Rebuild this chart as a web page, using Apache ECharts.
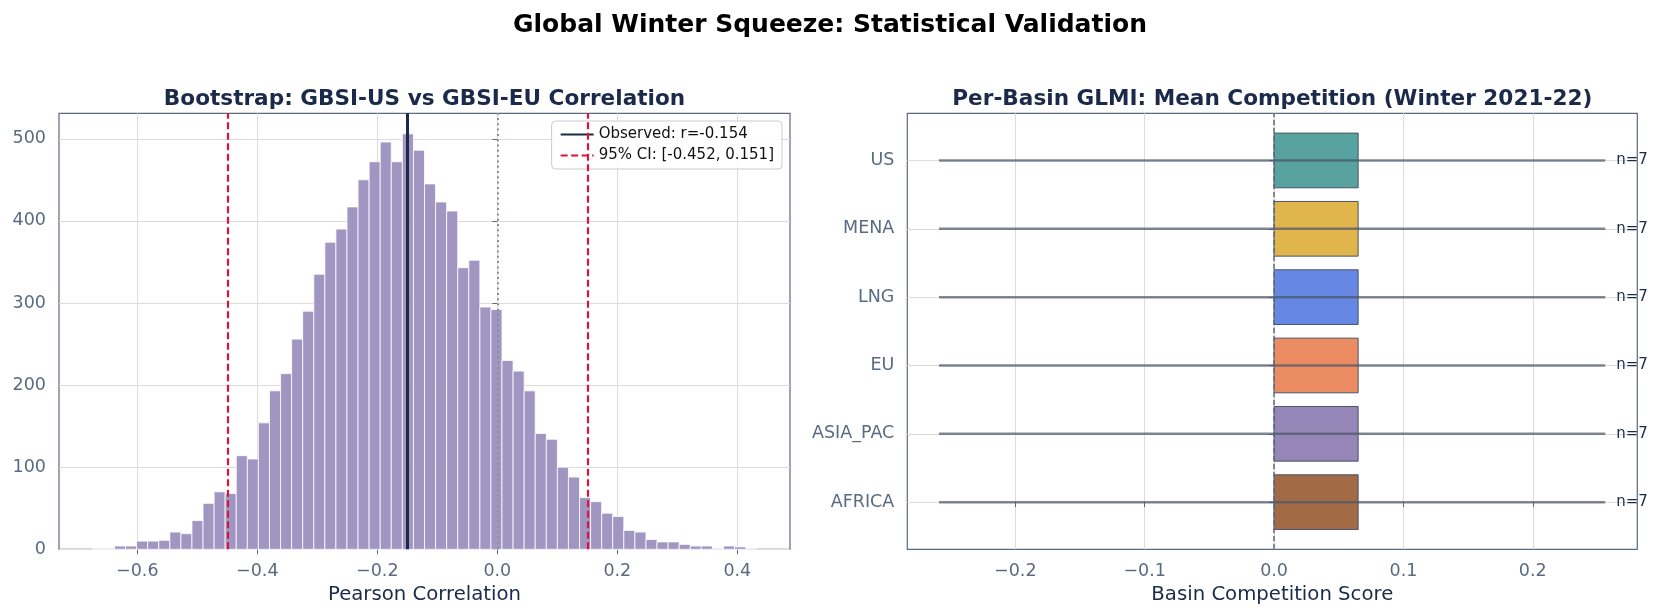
<!DOCTYPE html>
<html><head><meta charset="utf-8">
<script src="https://cdn.jsdelivr.net/npm/echarts@6/dist/echarts.min.js"></script>
<style>html,body{margin:0;padding:0;background:#fff}#c{width:1660px;height:616px}</style>
</head><body><div id="c"></div>
<script>
// ---- Left panel: bootstrap histogram ----
const histMin = -0.675;
const histMax = 0.4323;
const histCounts = [1,1,4,4,10,10,11,21,19,35,56,70,68,114,110,154,193,214,256,290,335,374,390,417,450,472,496,472,506,486,445,423,412,343,352,295,292,230,217,193,141,134,100,88,63,58,44,40,23,21,12,9,9,6,4,4,1,4,3,1];
const observedR = -0.154;
const ciBounds = [-0.452, 0.151];
const leftXTicks = [-0.6, -0.4, -0.2, 0.0, 0.2, 0.4];
const leftYTicks = [0, 100, 200, 300, 400, 500];
const leftXRange = [-0.7305, 0.4878];
const leftYRange = [0, 531];

// ---- Right panel: per-basin GLMI ----
const basins = ['AFRICA', 'ASIA_PAC', 'EU', 'LNG', 'MENA', 'US'];
const basinMeans = [0.065, 0.065, 0.065, 0.065, 0.065, 0.065];
const basinLow = [-0.259, -0.259, -0.259, -0.259, -0.259, -0.259];
const basinHigh = [0.256, 0.256, 0.256, 0.256, 0.256, 0.256];
const basinN = [7, 7, 7, 7, 7, 7];
const basinColors = ['#a36b45', '#9686b8', '#ec8c62', '#6688e4', '#e0b54c', '#58a29f'];
const rightXTicks = [-0.2, -0.1, 0.0, 0.1, 0.2];
const rightYTicks = [0, 1, 2, 3, 4, 5];
const rightXRange = [-0.2835, 0.2808];
const rightYRange = [-0.69, 5.69];

const FONT = 'DejaVu Sans';
const SLATE = '#5a6a80';
const NAVY = '#1b2a4a';
const fmtNum = v => (Math.abs(v) < 1e-9 ? '0.0' : v.toFixed(1).replace('-', '\u2212'));

const binW = (histMax - histMin) / histCounts.length;
const histData = histCounts.map((c, i) => [histMin + i * binW, histMin + (i + 1) * binW, c]);

const chart = echarts.init(document.getElementById('c'), null, {renderer: 'canvas'});

const axisCommon = {
  axisLine: {show: false},
  axisTick: {show: true, length: 5, lineStyle: {color: SLATE, width: 1}},
  axisLabel: {color: SLATE, fontSize: 17.5, fontFamily: FONT},
  splitLine: {show: true, lineStyle: {color: '#dcdcdc', width: 1}},
  nameTextStyle: {color: NAVY, fontSize: 19.7, fontFamily: FONT}
};

const option = {
  animation: false,
  backgroundColor: '#ffffff',
  textStyle: {fontFamily: FONT},
  graphic: [
    {type: 'text', x: 830, y: 25.5, style: {text: 'Global Winter Squeeze: Statistical Validation', align: 'center', verticalAlign: 'middle', font: 'bold 25px "DejaVu Sans"', fill: '#000'}},
    {type: 'text', x: 424.5, y: 99.5, style: {text: 'Bootstrap: GBSI-US vs GBSI-EU Correlation', align: 'center', verticalAlign: 'middle', font: 'bold 21.6px "DejaVu Sans"', fill: NAVY}},
    {type: 'text', x: 1272.3, y: 99.5, style: {text: 'Per-Basin GLMI: Mean Competition (Winter 2021-22)', align: 'center', verticalAlign: 'middle', font: 'bold 21.6px "DejaVu Sans"', fill: NAVY}}
  ],
  grid: [
    {left: 59, top: 113.3, width: 731, height: 436, show: true, borderColor: SLATE, borderWidth: 1.2, backgroundColor: 'transparent'},
    {left: 907.3, top: 113.3, width: 730, height: 436, show: true, borderColor: SLATE, borderWidth: 1.2, backgroundColor: 'transparent'}
  ],
  legend: {
    data: ['Observed: r=-0.154', '95% CI: [-0.452, 0.151]'],
    orient: 'vertical', right: 878, top: 121,
    backgroundColor: 'rgba(255,255,255,0.85)', borderColor: '#cccccc', borderWidth: 1, borderRadius: 4,
    padding: [6, 8, 6, 8], itemGap: 6, itemWidth: 33, itemHeight: 12,
    itemStyle: {opacity: 0},
    textStyle: {fontSize: 15, color: '#111', fontFamily: FONT}
  },
  xAxis: [
    Object.assign({}, axisCommon, {
      type: 'value', gridIndex: 0, min: leftXRange[0], max: leftXRange[1],
      name: 'Pearson Correlation', nameLocation: 'middle', nameGap: 36,
      axisTick: Object.assign({}, axisCommon.axisTick, {customValues: leftXTicks}),
      axisLabel: Object.assign({}, axisCommon.axisLabel, {customValues: leftXTicks, formatter: fmtNum, margin: 13})
    }),
    Object.assign({}, axisCommon, {
      type: 'value', gridIndex: 1, min: rightXRange[0], max: rightXRange[1],
      name: 'Basin Competition Score', nameLocation: 'middle', nameGap: 36,
      axisTick: Object.assign({}, axisCommon.axisTick, {customValues: rightXTicks}),
      axisLabel: Object.assign({}, axisCommon.axisLabel, {customValues: rightXTicks, formatter: fmtNum, margin: 13})
    })
  ],
  yAxis: [
    Object.assign({}, axisCommon, {
      type: 'value', gridIndex: 0, min: leftYRange[0], max: leftYRange[1],
      axisTick: Object.assign({}, axisCommon.axisTick, {customValues: leftYTicks}),
      axisLabel: Object.assign({}, axisCommon.axisLabel, {customValues: leftYTicks, margin: 13})
    }),
    Object.assign({}, axisCommon, {
      type: 'value', gridIndex: 1, min: rightYRange[0], max: rightYRange[1],
      axisTick: Object.assign({}, axisCommon.axisTick, {customValues: rightYTicks}),
      axisLabel: Object.assign({}, axisCommon.axisLabel, {customValues: rightYTicks, margin: 13, formatter: v => basins[Math.round(v)]})
    })
  ],
  series: [
    {
      type: 'custom', name: 'hist', xAxisIndex: 0, yAxisIndex: 0,
      data: histData, encode: {x: [0, 1], y: 2}, silent: true,
      renderItem: (params, api) => {
        const p0 = api.coord([api.value(0), 0]);
        const p1 = api.coord([api.value(1), api.value(2)]);
        return {type: 'rect', shape: {x: p0[0], y: p1[1], width: p1[0] - p0[0], height: p0[1] - p1[1]},
          style: {fill: '#a196c1', stroke: '#ffffff', lineWidth: 0.8}};
      }
    },
    {
      type: 'line', name: 'zero-left', xAxisIndex: 0, yAxisIndex: 0, data: [], symbol: 'none',
      markLine: {silent: true, symbol: ['none', 'none'], label: {show: false},
        lineStyle: {color: '#8890a0', width: 2, type: [2, 3.3]}, data: [{xAxis: 0}]}
    },
    {
      type: 'line', name: 'Observed: r=-0.154', xAxisIndex: 0, yAxisIndex: 0, data: [], symbol: 'none',
      lineStyle: {color: NAVY, width: 3}, itemStyle: {color: NAVY},
      markLine: {silent: true, symbol: ['none', 'none'], label: {show: false},
        lineStyle: {color: NAVY, width: 3, type: 'solid'}, data: [{xAxis: observedR}]}
    },
    {
      type: 'line', name: '95% CI: [-0.452, 0.151]', xAxisIndex: 0, yAxisIndex: 0, data: [], symbol: 'none',
      lineStyle: {color: '#dc143c', width: 2.2, type: [7, 3.5]}, itemStyle: {color: '#dc143c'},
      markLine: {silent: true, symbol: ['none', 'none'], label: {show: false},
        lineStyle: {color: '#dc143c', width: 2.2, type: [7, 3.5]}, data: ciBounds.map(v => ({xAxis: v}))}
    },
    {
      type: 'custom', name: 'bars', xAxisIndex: 1, yAxisIndex: 1, silent: true,
      data: basins.map((b, i) => [0, basinMeans[i], i]), encode: {x: [0, 1], y: 2},
      renderItem: (params, api) => {
        const i = api.value(2);
        const p0 = api.coord([api.value(0), i + 0.4]);
        const p1 = api.coord([api.value(1), i - 0.4]);
        return {type: 'rect', shape: {x: p0[0], y: p0[1], width: p1[0] - p0[0], height: p1[1] - p0[1]},
          style: {fill: basinColors[params.dataIndex], stroke: '#4a5568', lineWidth: 1}};
      }
    },
    {
      type: 'line', name: 'zero-right', xAxisIndex: 1, yAxisIndex: 1, data: [], symbol: 'none', z: 3,
      markLine: {silent: true, symbol: ['none', 'none'], label: {show: false},
        lineStyle: {color: SLATE, width: 1.5, type: [5.5, 2.5]}, data: [{xAxis: 0}]}
    },
    {
      type: 'custom', name: 'ranges', xAxisIndex: 1, yAxisIndex: 1, silent: true, z: 4,
      data: basins.map((b, i) => [basinLow[i], basinHigh[i], i, basinN[i]]), encode: {x: [0, 1], y: 2},
      renderItem: (params, api) => {
        const p0 = api.coord([api.value(0), api.value(2)]);
        const p1 = api.coord([api.value(1), api.value(2)]);
        return {type: 'group', children: [
          {type: 'line', shape: {x1: p0[0], y1: p0[1], x2: p1[0], y2: p1[1]},
            style: {stroke: '#4a5568', lineWidth: 2.5, opacity: 0.7}},
          {type: 'text', x: p1[0] + 11, y: p1[1],
            style: {text: 'n=' + api.value(3), align: 'left', verticalAlign: 'middle', font: '15px "DejaVu Sans"', fill: NAVY}}
        ]};
      }
    }
  ]
};
chart.setOption(option);
</script>
</body></html>
